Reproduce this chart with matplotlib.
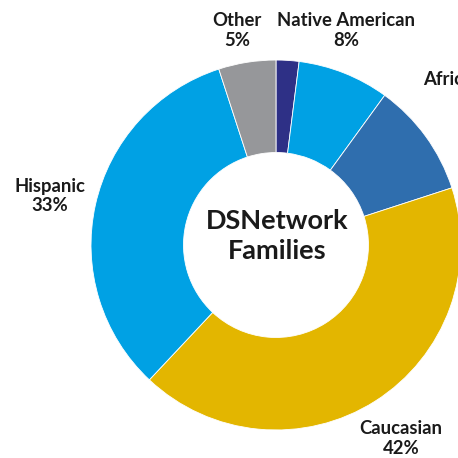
import matplotlib
matplotlib.use('Agg')
import matplotlib.pyplot as plt

# slices, clockwise from 12 o'clock
groups = ['Asian', 'Native American', 'African American', 'Caucasian', 'Hispanic', 'Other']
shares = [2, 8, 10, 42, 33, 5]
colors = ['#2e3086', '#00a1e4', '#2f6eae', '#e3b600', '#00a1e4', '#96979a']

# label anchors (data coords, radius = 1)
label_pos = {
    'Native American': (0.378, 1.160),
    'African American': (1.18, 0.840),
    'Caucasian': (0.675, -1.048),
    'Hispanic': (-1.222, 0.265),
    'Other': (-0.211, 1.160),
}

plt.rcParams['font.family'] = ['Lato', 'DejaVu Sans']

fig = plt.figure(figsize=(4.58, 4.58), dpi=100)
ax = fig.add_axes([0, 0, 1, 1])

ax.pie(shares, colors=colors, startangle=90, counterclock=False, radius=1.0,
       wedgeprops=dict(width=0.5, edgecolor='white', linewidth=0.6))

for g, s in zip(groups, shares):
    if g in label_pos:
        x, y = label_pos[g]
        ax.text(x, y, '{}\n{}%'.format(g, s), ha='center', va='center',
                fontsize=13.3, fontweight='bold', color='#1a1a1a', linespacing=1.2)

ax.text(0.005, 0.05, 'DSNetwork\nFamilies', ha='center', va='center',
        fontsize=19.5, fontweight='bold', color='#1a1a1a', linespacing=1.3)

ax.set_xlim(-1.492, 0.984)
ax.set_ylim(-1.151, 1.324)
ax.set_aspect('equal')
ax.axis('off')

fig.savefig('out.png', dpi=100)
